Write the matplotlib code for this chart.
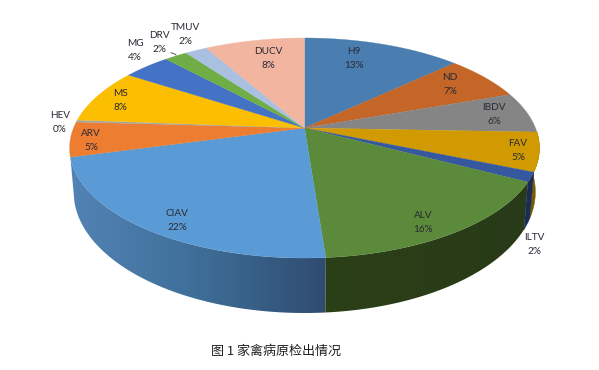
import matplotlib
matplotlib.use('Agg')
import matplotlib.pyplot as plt
from matplotlib.colors import LinearSegmentedColormap
from matplotlib.patches import FancyArrowPatch, Polygon
import numpy as np

plt.rcParams['font.family'] = ['Lato', 'DejaVu Sans']

names = ['H9', 'ND', 'IBDV', 'FAV', 'ILTV', 'ALV', 'CIAV', 'ARV', 'HEV', 'MS', 'MG', 'DRV', 'TMUV', 'DUCV']
# slice shares as measured on the picture, the printed labels are rounded
shares = [13.0, 6.6, 6.0, 5.7, 1.4, 16.1, 22.0, 5.1, 0.3, 8.0, 3.9, 1.9, 1.8, 8.2]
percent_labels = ['13%', '7%', '6%', '5%', '2%', '16%', '22%', '5%', '0%', '8%', '4%', '2%', '2%', '8%']
colors = ['#4A7EB0', '#C46627', '#858585', '#D09A00', '#35589F', '#5B8A3A', '#5B9BD5',
          '#ED7D31', '#A5A5A5', '#FCBE00', '#4472C4', '#70AD47', '#A9C0E0', '#F2B5A0']
side_colors = {'FAV': '#7A5A00', 'ILTV': '#1B2D55'}
title = '图 1 家禽病原检出情况'

# label centres in pixels
label_xy = {'H9': (354, 59), 'ND': (450, 84), 'IBDV': (494, 114), 'FAV': (518, 150),
            'ILTV': (534, 245), 'ALV': (423, 222), 'CIAV': (177, 220), 'ARV': (91, 140),
            'HEV': (60, 123), 'MS': (120, 101), 'MG': (135, 51), 'DRV': (159, 42),
            'TMUV': (185, 34), 'DUCV': (268, 58)}

# perspective of the pie: apex pixel, scales of top and bottom disc, tilt
apex_x = 304.5
apex_y, apex_y_low = 128, 170
scale_x, scale_y = 231, 106.4
scale_x_low, scale_y_low = 227, 117
tilt = 0.1818


def project(theta, bottom=False):
    # theta in degrees, clockwise from the top of the pie
    t = np.radians(theta)
    den = 1 + tilt * np.cos(t)
    if bottom:
        return apex_x + scale_x_low * np.sin(t) / den, apex_y_low - scale_y_low * np.cos(t) / den
    return apex_x + scale_x * np.sin(t) / den, apex_y - scale_y * np.cos(t) / den


def wall(ax, start, end, color=None, cmap=None):
    angles = np.linspace(start, end, 80)
    tx, ty = project(angles)
    bx, by = project(angles, bottom=True)
    pts = np.column_stack([np.r_[tx, bx[::-1]], np.r_[ty, by[::-1]]])
    if cmap is None:
        ax.add_patch(Polygon(pts, closed=True, fc=color, ec=color, lw=0.3))
        return
    poly = Polygon(pts, closed=True, fc='none', ec='none')
    ax.add_patch(poly)
    grad = np.linspace(0, 1, 256).reshape(1, -1)
    im = ax.imshow(grad, cmap=cmap, aspect='auto',
                   extent=(pts[:, 0].min(), pts[:, 0].max(), pts[:, 1].max(), pts[:, 1].min()))
    im.set_clip_path(poly)


def main():
    fig = plt.figure(figsize=(5.99, 3.70), dpi=100)
    ax = fig.add_axes([0, 0, 1, 1])

    edges = np.r_[0, np.cumsum(shares)] / sum(shares) * 360
    start = dict(zip(names, edges[:-1]))
    end = dict(zip(names, edges[1:]))

    # side of the pie, back to front
    wall(ax, start['FAV'], end['FAV'], side_colors['FAV'])
    wall(ax, start['ILTV'], end['ILTV'], side_colors['ILTV'])
    blues = LinearSegmentedColormap.from_list('blues', ['#5283B5', '#3E6E98', '#2F4C70'])
    greens = LinearSegmentedColormap.from_list('greens', ['#2C4018', '#283A17'])
    wall(ax, start['CIAV'], end['CIAV'], cmap=blues)
    wall(ax, start['ALV'], end['ALV'], cmap=greens)

    # top of the pie
    for i, name in enumerate(names):
        angles = np.linspace(edges[i], edges[i + 1], 60)
        x, y = project(angles)
        pts = np.column_stack([np.r_[apex_x, x], np.r_[apex_y, y]])
        ax.add_patch(Polygon(pts, closed=True, fc=colors[i], ec=colors[i], lw=0.2))

    for i, name in enumerate(names):
        lx, ly = label_xy[name]
        ax.text(lx, ly - 7, name, ha='center', va='center', fontsize=7.2, color='#2A2A35')
        ax.text(lx, ly + 7, percent_labels[i], ha='center', va='center', fontsize=7.2, color='#2A2A35')

    # leader line of DRV
    ax.add_patch(FancyArrowPatch((168, 53), (178, 57), arrowstyle='-', connectionstyle='arc3,rad=-0.3',
                                 color='#404040', lw=0.6))

    ax.text(276, 351, title, ha='center', va='center', fontsize=9.4,
            family=['Noto Sans CJK SC', 'DejaVu Sans'], color='#202020')

    ax.set_xlim(0, 599)
    ax.set_ylim(370, 0)
    ax.axis('off')
    fig.savefig('out.png', dpi=100)


if __name__ == '__main__':
    main()
